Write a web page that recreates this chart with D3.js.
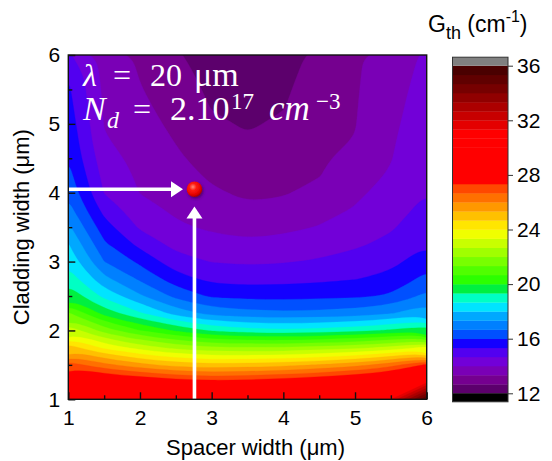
<!DOCTYPE html>
<html>
<head>
<meta charset="utf-8">
<script src="https://cdn.jsdelivr.net/npm/d3@7"></script>
<style>
  html, body { margin: 0; padding: 0; background: #fff; }
  svg { display: block; }
  text { font-family: "Liberation Sans", Arial, sans-serif; fill: #000; }
</style>
</head>
<body>
<svg id="chart" width="552" height="461"></svg>
<script>
// Sample grid: spacer width (x) and cladding width (y), in µm
const spacerWidth = [1, 1.5, 2, 2.5, 3, 3.5, 4, 4.5, 5, 5.5, 6];
const claddingWidth = [1, 1.25, 1.5, 1.75, 2, 2.25, 2.5, 2.75, 3, 3.25, 3.5,
                       3.75, 4, 4.25, 4.5, 4.75, 5, 5.25, 5.5, 5.75, 6];

// Threshold gain G_th (cm^-1); one row per cladding width, one column per spacer width
const gth = [
  [30.5, 30.6, 30.7, 30.8, 30.8, 30.8, 30.8, 30.9, 31.0, 31.3, 35.5],
  [28.8, 28.45, 28.15, 27.81, 27.59, 27.7, 27.91, 28.2, 28.52, 28.99, 31.18],
  [27.0, 26.19, 25.56, 25.07, 24.86, 24.97, 25.11, 25.38, 25.73, 26.36, 27.48],
  [25.0, 23.83, 23.05, 22.46, 22.11, 22.06, 22.06, 22.27, 22.48, 22.86, 23.54],
  [23.1, 21.7, 20.67, 19.89, 19.22, 18.93, 18.8, 18.93, 19.11, 19.44, 19.78],
  [21.4, 19.72, 18.74, 17.72, 17.09, 16.9, 16.79, 16.86, 16.96, 17.27, 17.78],
  [19.82, 18.47, 17.43, 16.47, 15.89, 15.8, 15.78, 15.85, 15.88, 16.08, 16.84],
  [19.04, 17.52, 16.54, 15.62, 15.14, 15.06, 15.11, 15.18, 15.3, 15.53, 16.19],
  [18.48, 16.67, 15.85, 14.93, 14.64, 14.56, 14.62, 14.73, 14.9, 15.14, 15.71],
  [18.04, 16.11, 15.14, 14.46, 14.24, 14.12, 14.21, 14.37, 14.57, 14.83, 15.31],
  [17.47, 15.62, 14.57, 14.1, 13.9, 13.76, 13.85, 14.03, 14.31, 14.59, 15.08],
  [16.91, 15.11, 14.25, 13.89, 13.66, 13.44, 13.52, 13.77, 14.05, 14.41, 14.85],
  [16.51, 14.63, 13.98, 13.75, 13.43, 13.21, 13.28, 13.51, 13.87, 14.24, 14.66],
  [16.22, 14.45, 13.88, 13.6, 13.23, 13.04, 13.14, 13.31, 13.7, 14.07, 14.59],
  [15.97, 14.26, 13.78, 13.43, 13.07, 12.88, 13.01, 13.24, 13.53, 13.97, 14.52],
  [15.84, 14.07, 13.68, 13.31, 12.91, 12.72, 12.88, 13.17, 13.36, 13.92, 14.45],
  [15.7, 13.97, 13.57, 13.19, 12.76, 12.61, 12.75, 13.1, 13.31, 13.86, 14.38],
  [15.57, 13.91, 13.47, 13.08, 12.64, 12.52, 12.64, 13.02, 13.29, 13.81, 14.31],
  [15.44, 13.86, 13.37, 12.97, 12.55, 12.43, 12.58, 12.95, 13.27, 13.76, 14.24],
  [15.23, 13.8, 13.29, 12.85, 12.47, 12.34, 12.51, 12.88, 13.25, 13.71, 14.17],
  [14.75, 13.75, 13.21, 12.74, 12.38, 12.25, 12.45, 12.81, 13.23, 13.66, 14.1]
];

// Contour levels: 12 to 36 in steps of 2/3
const levelMin = 12, levelMax = 36, levelCount = 36;
const levels = d3.range(levelCount + 1).map(k => levelMin + k * (levelMax - levelMin) / levelCount);

// Fill colour of each band, from the lowest level upwards
const bandColors = [
  "#5c006c", "#75008f", "#7a00b6", "#7200d8", "#5200f0", "#1400ff",
  "#0050ff", "#0080ff", "#00a8ff", "#00e4ff", "#00ffc4", "#00f040",
  "#2cff00", "#50ff00", "#78ff00", "#a0ff00", "#c8ff00", "#f0ff00",
  "#ffe600", "#ffc000", "#ff9800", "#ff7000", "#ff4800", "#ff0000",
  "#ff0000", "#ff0000", "#ff0000", "#ff0000", "#ff0000", "#e40000",
  "#c80000", "#ac0000", "#900000", "#760000", "#600000", "#4a0000"
];
const overColor = "#808080";
const underColor = "#000000";

const axisTicks = [1, 2, 3, 4, 5, 6];
const axisMinorTicks = [1.5, 2.5, 3.5, 4.5, 5.5];
const colorbarTicks = [12, 16, 20, 24, 28, 32, 36];

// Marked optimum and the arrows pointing at it (µm)
const optimum = { spacer: 2.76, cladding: 4.05 };
const arrowTipSpacer = 2.6;    // end of the horizontal arrow
const arrowTipCladding = 3.8;  // end of the vertical arrow

const svg = d3.select("#chart");
const W = 552, H = 461;
svg.append("rect").attr("width", W).attr("height", H).attr("fill", "#fff");

const x = d3.scaleLinear().domain([1, 6]).range([68.3, 426.7]);
const y = d3.scaleLinear().domain([1, 6]).range([399.3, 55]);

const defs = svg.append("defs");
defs.append("clipPath").attr("id", "plotClip")
  .append("rect")
  .attr("x", x(1)).attr("y", y(6))
  .attr("width", x(6) - x(1)).attr("height", y(1) - y(6));

// ---- filled contours ----
const nx = spacerWidth.length, ny = claddingWidth.length;
const contours = d3.contours().size([nx, ny]).thresholds(levels)(gth.flat());

// grid-cell coordinates -> pixels (sample i sits at i + 0.5)
const gx = d3.scaleLinear().domain([0.5, nx - 0.5]).range([x(spacerWidth[0]), x(spacerWidth[nx - 1])]);
const gy = d3.scaleLinear().domain([0.5, ny - 0.5]).range([y(claddingWidth[0]), y(claddingWidth[ny - 1])]);

// rings are smoothed; small corner patches keep their straight edges
const smoothRing = d3.line().curve(d3.curveBasisClosed);
const plainRing = d3.line().curve(d3.curveLinearClosed);
function bandPath(mp) {
  let d = "";
  mp.coordinates.forEach(poly => poly.forEach(ring => {
    const pts = ring.slice(0, -1).map(([cx, cy]) => [gx(cx), gy(cy)]);
    if (pts.length < 3) return;
    d += pts.length > 10 ? smoothRing(pts) : plainRing(pts);
  }));
  return d;
}

const plot = svg.append("g").attr("clip-path", "url(#plotClip)");
// lowest band covers the whole field
plot.append("rect")
  .attr("x", x(1)).attr("y", y(6))
  .attr("width", x(6) - x(1)).attr("height", y(1) - y(6))
  .attr("fill", bandColors[0]);
plot.selectAll("path.band")
  .data(contours.slice(1))
  .join("path")
  .attr("class", "band")
  .attr("d", bandPath)
  .attr("fill", (d, i) => i + 1 < levelCount ? bandColors[i + 1] : overColor)
  .attr("stroke", (d, i) => i + 1 < levelCount ? bandColors[i + 1] : overColor)
  .attr("stroke-width", 0.3);

// ---- annotation: arrows and marker ----
const arrowColor = "#ffffff";
const yOpt = y(optimum.cladding), xOpt = x(optimum.spacer);
const headLen = 12, headHalf = 8;

plot.append("line")
  .attr("x1", x(1)).attr("y1", yOpt)
  .attr("x2", x(arrowTipSpacer) - headLen + 1).attr("y2", yOpt)
  .attr("stroke", arrowColor).attr("stroke-width", 3.6);
plot.append("path")
  .attr("d", `M${x(arrowTipSpacer)},${yOpt} L${x(arrowTipSpacer) - headLen},${yOpt - headHalf} L${x(arrowTipSpacer) - headLen},${yOpt + headHalf} Z`)
  .attr("fill", arrowColor);

plot.append("line")
  .attr("x1", xOpt).attr("y1", y(1))
  .attr("x2", xOpt).attr("y2", y(arrowTipCladding) + headLen - 1)
  .attr("stroke", arrowColor).attr("stroke-width", 3.6);
plot.append("path")
  .attr("d", `M${xOpt},${y(arrowTipCladding)} L${xOpt - headHalf},${y(arrowTipCladding) + headLen} L${xOpt + headHalf},${y(arrowTipCladding) + headLen} Z`)
  .attr("fill", arrowColor);

const grad = defs.append("radialGradient").attr("id", "ball")
  .attr("cx", "40%").attr("cy", "35%").attr("r", "65%");
grad.append("stop").attr("offset", "0%").attr("stop-color", "#ff8a7a");
grad.append("stop").attr("offset", "35%").attr("stop-color", "#ff1a10");
grad.append("stop").attr("offset", "80%").attr("stop-color", "#e00000");
grad.append("stop").attr("offset", "100%").attr("stop-color", "#a00000");

const shadow = defs.append("filter").attr("id", "ballShadow")
  .attr("x", "-50%").attr("y", "-50%").attr("width", "200%").attr("height", "200%");
shadow.append("feDropShadow").attr("dx", 1).attr("dy", 1.5)
  .attr("stdDeviation", 1.5).attr("flood-color", "#300030").attr("flood-opacity", 0.6);

plot.append("circle")
  .attr("cx", xOpt).attr("cy", yOpt).attr("r", 7.8)
  .attr("fill", "url(#ball)")
  .attr("filter", "url(#ballShadow)");

// ---- annotation text (white, serif) ----
const serif = "'Liberation Serif', 'DejaVu Serif', serif";
function noteText(baseline) {
  return svg.append("text").attr("y", baseline)
    .style("font-family", serif).style("fill", "#fff").attr("font-size", 32);
}
const l1 = noteText(86);
l1.append("tspan").attr("x", 83).attr("font-style", "italic").text("λ");
l1.append("tspan").attr("x", 113).text("=");
l1.append("tspan").attr("x", 150).text("20");
l1.append("tspan").attr("x", 194).attr("font-size", 34).text("μm");

const l2 = noteText(120);
l2.append("tspan").attr("x", 83).attr("font-style", "italic").attr("font-size", 34).text("N");
l2.append("tspan").attr("x", 107).attr("dy", 8).attr("font-size", 24).attr("font-style", "italic").text("d");
l2.append("tspan").attr("x", 133).attr("dy", -8).text("=");
l2.append("tspan").attr("x", 170).attr("font-size", 34).text("2.10");
l2.append("tspan").attr("x", 231).attr("dy", -11).attr("font-size", 23).text("17");
l2.append("tspan").attr("x", 269).attr("dy", 11).attr("font-style", "italic").attr("font-size", 35).text("cm");
l2.append("tspan").attr("x", 316).attr("dy", -11).attr("font-size", 23).text("−3");

// ---- frame and axes ----
svg.append("rect")
  .attr("x", x(1)).attr("y", y(6))
  .attr("width", x(6) - x(1)).attr("height", y(1) - y(6))
  .attr("fill", "none").attr("stroke", "#111").attr("stroke-width", 1.4);

const tickFont = 21;
const xAxis = svg.append("g").attr("transform", `translate(0,${y(1)})`)
  .call(d3.axisBottom(x).tickValues(axisTicks).tickSize(-7).tickPadding(11).tickFormat(d3.format("d")));
xAxis.append("g").call(d3.axisBottom(x).tickValues(axisMinorTicks).tickSize(-4).tickFormat(""));
const yAxis = svg.append("g").attr("transform", `translate(${x(1)},0)`)
  .call(d3.axisLeft(y).tickValues(axisTicks).tickSize(-7).tickPadding(8).tickFormat(d3.format("d")));
yAxis.append("g").call(d3.axisLeft(y).tickValues(axisMinorTicks).tickSize(-4).tickFormat(""));

svg.selectAll(".domain").remove();
svg.selectAll(".tick line").attr("stroke", "#111").attr("stroke-width", 1.4);
svg.selectAll(".tick text").attr("font-size", tickFont).attr("font-family", "'Liberation Sans', Arial, sans-serif").attr("fill", "#000");

svg.append("text")
  .attr("x", (x(1) + x(6)) / 2 + 8).attr("y", 455)
  .attr("text-anchor", "middle").attr("font-size", 22)
  .text("Spacer width (μm)");
svg.append("text")
  .attr("transform", `translate(29,${(y(1) + y(6)) / 2}) rotate(-90)`)
  .attr("text-anchor", "middle").attr("font-size", 22)
  .text("Cladding width (μm)");

// ---- colour bar ----
const cb = d3.scaleLinear().domain([levelMin, levelMax]).range([393.3, 65.7]);
const cbX = 452.5, cbW = 55.5, capH = 8.5;
const bar = svg.append("g");
bar.selectAll("rect.band")
  .data(bandColors)
  .join("rect")
  .attr("class", "band")
  .attr("x", cbX).attr("width", cbW)
  .attr("y", (d, i) => cb(levels[i + 1]))
  .attr("height", (d, i) => cb(levels[i]) - cb(levels[i + 1]) + 0.3)
  .attr("fill", d => d);
bar.append("rect").attr("x", cbX).attr("width", cbW)
  .attr("y", cb(levelMax) - capH).attr("height", capH).attr("fill", overColor);
bar.append("rect").attr("x", cbX).attr("width", cbW)
  .attr("y", cb(levelMin)).attr("height", capH).attr("fill", underColor);
bar.append("rect").attr("x", cbX).attr("width", cbW)
  .attr("y", cb(levelMax) - capH).attr("height", cb(levelMin) - cb(levelMax) + 2 * capH)
  .attr("fill", "none").attr("stroke", "#333").attr("stroke-width", 1);

const cbAxis = svg.append("g").attr("transform", `translate(${cbX + cbW},0)`)
  .call(d3.axisRight(cb).tickValues(colorbarTicks).tickSize(5).tickPadding(4));
cbAxis.select(".domain").remove();
cbAxis.selectAll(".tick line").attr("stroke", "#333").attr("stroke-width", 1);
cbAxis.selectAll(".tick text").attr("font-size", tickFont).attr("font-family", "'Liberation Sans', Arial, sans-serif").attr("fill", "#000");

const cbTitle = svg.append("text").attr("x", 428).attr("y", 32).attr("font-size", 23);
cbTitle.append("tspan").text("G");
cbTitle.append("tspan").attr("font-size", 18).attr("dy", 7).text("th");
cbTitle.append("tspan").attr("dy", -7).text(" (cm");
cbTitle.append("tspan").attr("font-size", 16).attr("dy", -10).text("-1");
cbTitle.append("tspan").attr("dy", 10).text(")");
</script>
</body>
</html>
